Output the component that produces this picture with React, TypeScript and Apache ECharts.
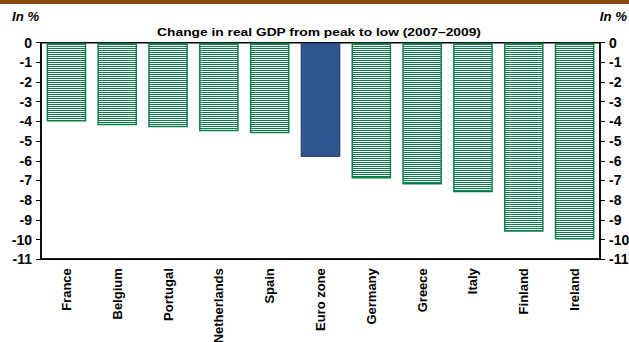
import React, { useEffect, useRef } from "react";
import * as echarts from "echarts";

// Change in real GDP from peak to low, 2007–2009 (in %)
const countries = [
  "France",
  "Belgium",
  "Portugal",
  "Netherlands",
  "Spain",
  "Euro zone",
  "Germany",
  "Greece",
  "Italy",
  "Finland",
  "Ireland",
];
const gdpChange = [-4.0, -4.2, -4.3, -4.5, -4.6, -5.8, -6.9, -7.2, -7.6, -9.6, -10.0];
const highlighted = "Euro zone";

const yMin = -11;
const yMax = 0;
const yStep = 1;

const GREEN = "#117d48";
const BLUE = "#2f5592";
const BLUE_EDGE = "#1f3560";
const FONT = "Liberation Sans, Arial, sans-serif";

// Horizontal hatch: 1px green line, 1px white gap
function hatchPattern(): string {
  const c = document.createElement("canvas");
  c.width = 4;
  c.height = 2;
  const ctx = c.getContext("2d")!;
  ctx.fillStyle = "#ffffff";
  ctx.fillRect(0, 0, 4, 2);
  ctx.fillStyle = GREEN;
  ctx.fillRect(0, 0, 4, 1);
  return c.toDataURL("image/png");
}

export default function App() {
  const ref = useRef<HTMLDivElement>(null);

  useEffect(() => {
    if (!ref.current) return;
    const chart = echarts.init(ref.current, null, { renderer: "svg" });
    const hatch = { image: hatchPattern(), repeat: "repeat" as const };

    const yAxisCommon = {
      type: "value" as const,
      min: yMin,
      max: yMax,
      interval: yStep,
      splitLine: { show: false },
      axisLine: { show: true, lineStyle: { color: "#000", width: 1.5 } },
      axisTick: { show: true, length: 5, lineStyle: { color: "#000", width: 1 } },
      axisLabel: {
        margin: 9,
        color: "#000",
        fontFamily: FONT,
        fontWeight: "bold" as const,
        fontSize: 14,
      },
    };

    chart.setOption({
      animation: false,
      backgroundColor: "#fff",
      grid: {
        left: 41,
        right: 29,
        top: 42.7,
        height: 216.5,
        outerBoundsMode: "none",
        containLabel: false,
        show: true,
        borderColor: "#000",
        borderWidth: 1.5,
        backgroundColor: "transparent",
      },
      graphic: [
        {
          type: "rect",
          left: 0,
          top: 0,
          shape: { x: 0, y: 0, width: 629, height: 4 },
          style: { fill: "#8b4a10" },
        },
        {
          type: "text",
          x: 12,
          y: 17,
          scaleX: 1.1,
          style: {
            text: "In %",
            font: `italic bold 12px ${FONT}`,
            fill: "#000",
            textAlign: "left",
            textVerticalAlign: "middle",
          },
        },
        {
          type: "text",
          x: 627,
          y: 17,
          scaleX: 1.1,
          style: {
            text: "In %",
            font: `italic bold 12px ${FONT}`,
            fill: "#000",
            textAlign: "right",
            textVerticalAlign: "middle",
          },
        },
        {
          type: "text",
          x: 319,
          y: 32,
          scaleX: 1.2,
          style: {
            text: "Change in real GDP from peak to low (2007\u20132009)",
            font: `bold 11.5px ${FONT}`,
            fill: "#000",
            textAlign: "center",
            textVerticalAlign: "middle",
          },
        },
      ],
      xAxis: {
        type: "category",
        data: countries,
        position: "bottom",
        axisLine: { show: true, onZero: false, lineStyle: { color: "#000", width: 1.5 } },
        axisTick: { show: false },
        axisLabel: {
          rotate: 90,
          margin: 9,
          interval: 0,
          color: "#000",
          fontFamily: FONT,
          fontWeight: "bold",
          fontSize: 13,
        },
      },
      yAxis: [
        { ...yAxisCommon, position: "left" },
        { ...yAxisCommon, position: "right" },
      ],
      series: [
        {
          type: "bar",
          barWidth: "78%",
          data: gdpChange.map((v, i) =>
            countries[i] === highlighted
              ? { value: v, itemStyle: { color: BLUE, borderColor: BLUE_EDGE, borderWidth: 1 } }
              : { value: v, itemStyle: { color: hatch, borderColor: GREEN, borderWidth: 1.5 } }
          ),
        },
      ],
    });

    return () => chart.dispose();
  }, []);

  return (
    <div
      ref={ref}
      style={{ position: "fixed", left: 0, top: 0, width: 629, height: 342 }}
    />
  );
}
